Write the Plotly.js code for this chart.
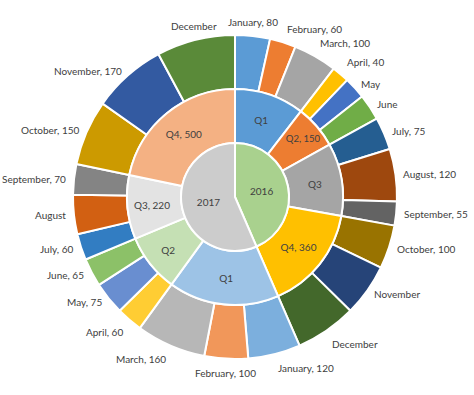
<!DOCTYPE html>
<html>
<head>
<meta charset="utf-8">
<script src="https://cdn.plot.ly/plotly-3.0.1.min.js"></script>
<style>html,body{margin:0;padding:0;background:#fff;}#chart{width:474px;height:395px;}</style>
</head>
<body>
<div id="chart"></div>
<script>
// ---- data ----
var years = ['2016', '2017'];
var quarters = ['Q1', 'Q2', 'Q3', 'Q4'];
var months = ['January', 'February', 'March', 'April', 'May', 'June',
              'July', 'August', 'September', 'October', 'November', 'December'];
var values2016 = [80, 60, 100, 40, 50, 60, 75, 120, 55, 100, 120, 140];
var values2017 = [120, 100, 160, 60, 75, 65, 60, 90, 70, 150, 170, 180];
// whether the value is printed in the label
var monthShowValue2016 = [1, 1, 1, 1, 0, 0, 1, 1, 1, 1, 0, 0];
var monthShowValue2017 = [1, 1, 1, 1, 1, 1, 1, 0, 1, 1, 1, 0];
var quarterShowValue2016 = [0, 1, 0, 1];
var quarterShowValue2017 = [0, 0, 1, 1];
// colours
var yearColors = ['#a9d18e', '#cccccc'];
var quarterColors2016 = ['#5b9bd5', '#ed7d31', '#a5a5a5', '#ffc000'];
var quarterColors2017 = ['#9dc3e6', '#c5e0b4', '#e3e3e3', '#f4b183'];
var monthColors2016 = ['#5b9bd5', '#ed7d31', '#a5a5a5', '#ffc000', '#4472c4', '#70ad47',
                       '#255e91', '#9e480e', '#636363', '#997300', '#264478', '#43682b'];
var monthColors2017 = ['#7cafdd', '#f1975a', '#b7b7b7', '#ffcd33', '#698ed0', '#8cc168',
                       '#327dc2', '#d26012', '#848484', '#cc9a00', '#335aa1', '#5a8a39'];

// ---- build rings (clockwise from 12 o'clock) ----
var yearValues = [values2016, values2017];
var monthShow = [monthShowValue2016, monthShowValue2017];
var quarterShow = [quarterShowValue2016, quarterShowValue2017];
var quarterColors = [quarterColors2016, quarterColors2017];
var monthColors = [monthColors2016, monthColors2017];
function sum(a) { return a.reduce(function (s, v) { return s + v; }, 0); }

var yearTotals = yearValues.map(sum);
var qVals = [], qText = [], qCols = [];
var mVals = [], mText = [], mCols = [];
for (var y = 0; y < years.length; y++) {
  for (var q = 0; q < quarters.length; q++) {
    var qv = sum(yearValues[y].slice(q * 3, q * 3 + 3));
    qVals.push(qv);
    qText.push(quarters[q] + (quarterShow[y][q] ? ', ' + qv : ''));
    qCols.push(quarterColors[y][q]);
  }
  for (var m = 0; m < months.length; m++) {
    mVals.push(yearValues[y][m]);
    mText.push(months[m] + (monthShow[y][m] ? ', ' + yearValues[y][m] : ''));
    mCols.push(monthColors[y][m]);
  }
}

// ---- geometry ----
var W = 474, H = 395;
var margin = {l: 73, r: 77, t: 35, b: 36};
var plotSize = W - margin.l - margin.r;   // square plot area
var ringR = plotSize / 2;
var font = 'Lato, "Open Sans", sans-serif';
var textColor = '#404040';
var border = {color: '#ffffff', width: 2};

function pieTrace(vals, text, cols, frac, hole) {
  var d = [0.5 - frac / 2, 0.5 + frac / 2];
  return {
    type: 'pie', values: vals, text: text,
    textinfo: text ? 'text' : 'none',
    textposition: 'inside', insidetextorientation: 'horizontal',
    sort: false, direction: 'clockwise', rotation: 0, hole: hole,
    textfont: {family: font, size: 10, color: textColor},
    marker: {colors: cols, line: border},
    domain: {x: d, y: d}, showlegend: false, hoverinfo: 'text+value'
  };
}

var traces = [
  pieTrace(mVals, null, mCols, 1, 2 / 3),
  pieTrace(qVals, qText, qCols, 2 / 3, 0.5),
  pieTrace(yearTotals, years, yearColors, 1 / 3, 0)
];

// outside month labels, positioned from the slice angles
var total = sum(mVals);
var annotations = [];
var cum = 0;
for (var i = 0; i < mVals.length; i++) {
  var mid = (cum + mVals[i] / 2) / total * 2 * Math.PI;
  cum += mVals[i];
  var dx = Math.sin(mid), dy = -Math.cos(mid);   // screen direction
  var r = ringR + 6;
  annotations.push({
    xref: 'paper', yref: 'paper',
    x: 0.5 + r * dx / plotSize, y: 0.5 - r * dy / plotSize,
    text: mText[i], showarrow: false,
    xanchor: dx > 0.2 ? 'left' : (dx < -0.3 ? 'right' : 'center'),
    yanchor: Math.abs(dy) < 0.75 ? 'middle' : (dy < 0 ? 'bottom' : 'top'),
    font: {family: font, size: 10, color: textColor}
  });
}

Plotly.newPlot('chart', traces, {
  width: W, height: H, margin: margin,
  paper_bgcolor: '#ffffff', showlegend: false,
  font: {family: font}, annotations: annotations
}, {displayModeBar: false, staticPlot: true});
</script>
</body>
</html>
